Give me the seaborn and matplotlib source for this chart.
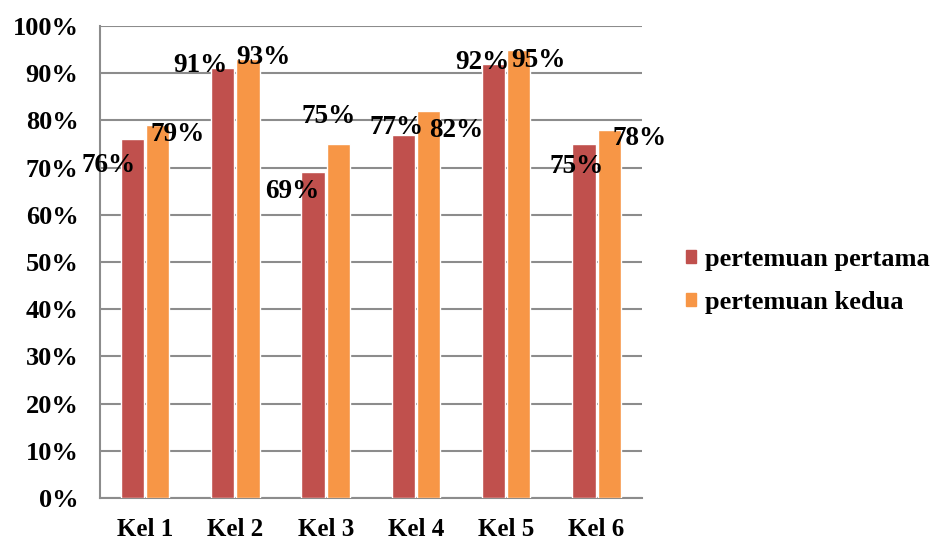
import pandas as pd
import matplotlib.pyplot as plt
import seaborn as sns

sns.set_style('white')
plt.rcParams['font.family'] = ['Liberation Serif', 'DejaVu Serif']
plt.rcParams['font.weight'] = 'bold'
plt.rcParams['text.color'] = 'black'
plt.rcParams['xtick.color'] = 'black'
plt.rcParams['ytick.color'] = 'black'

groups = ['Kel 1', 'Kel 2', 'Kel 3', 'Kel 4', 'Kel 5', 'Kel 6']
pertama = [76, 91, 69, 77, 92, 75]
kedua = [79, 93, 75, 82, 95, 78]
series = ['pertemuan pertama', 'pertemuan kedua']
colors = ['#C0504D', '#F79646']

data = pd.DataFrame({
    'kelompok': groups * 2,
    'nilai': pertama + kedua,
    'seri': [series[0]] * 6 + [series[1]] * 6,
})

fig = plt.figure(figsize=(9.34, 5.41), dpi=100)
ax = fig.add_axes([0.107, 0.0795, 0.58, 0.8725])
sns.barplot(data=data, x='kelompok', y='nilai', hue='seri', palette=colors,
            saturation=1, width=0.56, gap=0.08, ax=ax, legend=False, zorder=3)

ax.set_ylim(0, 100)
ax.set_yticks(range(0, 101, 10))
ax.set_yticklabels([f'{v}%' for v in range(0, 101, 10)], fontsize=19, fontweight='bold')
ax.set_xticks(range(len(groups)))
ax.set_xticklabels(groups, fontsize=18, fontweight='bold')
ax.set_xlabel('')
ax.set_ylabel('')
ax.tick_params(axis='x', pad=11, colors='black')
ax.tick_params(axis='y', pad=12, colors='black')
ax.yaxis.grid(True, color='#8c8c8c', linewidth=1.5, zorder=0)
for s in ['top', 'right']:
    ax.spines[s].set_visible(False)
for s in ['left', 'bottom']:
    ax.spines[s].set_color('#8c8c8c')
    ax.spines[s].set_linewidth(1.5)

# label offsets (points) relative to bar tops, like the Excel layout
offsets = [
    [(-17, -19), (14, -7)],
    [(-16, 2), (11, 1)],
    [(-15, -14), (-7, 20)],
    [(-5, 5), (20, -14)],
    [(-8, 1), (14, -8)],
    [(-5, -16), (22, -6)],
]
for j, cont in enumerate(ax.containers):
    for i, bar in enumerate(cont):
        h = bar.get_height()
        dx, dy = offsets[i][j]
        ax.annotate(f'{h:.0f}%', (bar.get_x() + bar.get_width() / 2, h),
                    xytext=(dx, dy), textcoords='offset points',
                    ha='center', va='center', fontsize=19.5, fontweight='bold',
                    color='black', zorder=5)

handles = [plt.Rectangle((0, 0), 1, 1, color=c) for c in colors]
fig.legend(handles, series, loc='center left', bbox_to_anchor=(0.7345, 0.481),
           frameon=False, borderaxespad=0, borderpad=0,
           handlelength=0.37, handleheight=0.37, handletextpad=0.34,
           labelspacing=0.75, prop={'size': 19, 'weight': 'bold'})

fig.savefig('out.png', dpi=100)
